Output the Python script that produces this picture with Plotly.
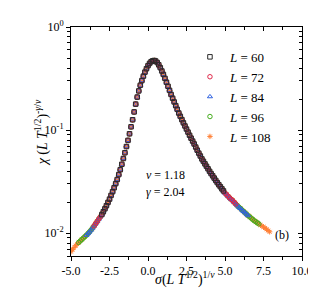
import plotly.graph_objects as go

# ---- data ----
x_L60 = [-3.0, -2.9, -2.8, -2.7, -2.6, -2.5, -2.4, -2.3, -2.2, -2.1, -2.0, -1.9, -1.8, -1.7, -1.6,
         -1.5, -1.4, -1.3, -1.2, -1.1, -1.0, -0.9, -0.8, -0.7, -0.6, -0.5, -0.4, -0.3, -0.2, -0.1,
         0.0, 0.1, 0.2, 0.3, 0.4, 0.5, 0.6, 0.7, 0.8, 0.9, 1.0, 1.1, 1.2, 1.3, 1.4, 1.5, 1.6, 1.7,
         1.8, 1.9, 2.0, 2.1, 2.2, 2.3, 2.4, 2.5, 2.6, 2.7, 2.8, 2.9, 3.0, 3.1, 3.2, 3.3, 3.4, 3.5,
         3.6, 3.7, 3.8, 3.9, 4.0, 4.1, 4.2, 4.3, 4.4, 4.5, 4.6, 4.7, 4.8, 4.9]
y_L60 = [0.01514, 0.01614, 0.01722, 0.01845, 0.01986, 0.02138, 0.02323, 0.02523, 0.02754, 0.03020,
         0.03311, 0.03698, 0.04130, 0.04656, 0.05297, 0.06026, 0.06918, 0.07943, 0.09204, 0.1076,
         0.1259, 0.1500, 0.1786, 0.2089, 0.2399, 0.2723, 0.3020, 0.3334, 0.3648, 0.3936,
         0.4217, 0.4436, 0.4603, 0.4699, 0.4732, 0.4677, 0.4519, 0.4295, 0.4027, 0.3741,
         0.3467, 0.3177, 0.2911, 0.2661, 0.2427, 0.2213, 0.2037, 0.1875, 0.1726, 0.1589,
         0.1462, 0.1358, 0.1262, 0.1175, 0.1096, 0.1023, 0.0955, 0.0891, 0.0834, 0.0782,
         0.0733, 0.0684, 0.0638, 0.0597, 0.0560, 0.0525, 0.0497, 0.0470, 0.0445, 0.0421,
         0.0398, 0.0378, 0.0360, 0.0342, 0.0325, 0.0309, 0.0295, 0.0282, 0.0269, 0.0257]

x_L72 = [-3.5, -3.4, -3.3, -3.2, -3.1, -3.0, -2.9, -2.8, -2.7, -2.6, -2.5, -2.4, -2.3, -2.2, -2.1,
         -2.0, -1.9, -1.8, -1.7, -1.6, -1.5, -1.4, -1.3, -1.2, -1.1, -1.0, -0.9, -0.8, -0.7, -0.6,
         -0.5, -0.4, -0.3, -0.2, -0.1, 0.0, 0.1, 0.2, 0.3, 0.4, 0.5, 0.6, 0.7, 0.8, 0.9, 1.0, 1.1,
         1.2, 1.3, 1.4, 1.5, 1.6, 1.7, 1.8, 1.9, 2.0, 2.1, 2.2, 2.3, 2.4, 2.5, 2.6, 2.7, 2.8, 2.9,
         3.0, 3.1, 3.2, 3.3, 3.4, 3.5, 3.6, 3.7, 3.8, 3.9, 4.0, 4.1, 4.2, 4.3, 4.4, 4.5, 4.6, 4.7,
         4.8, 4.9, 5.0, 5.1, 5.2, 5.3, 5.4, 5.5, 5.6, 5.7]
y_L72 = [0.01175, 0.01236, 0.01300, 0.01368, 0.01439,
         0.01514, 0.01614, 0.01722, 0.01845, 0.01986, 0.02138, 0.02323, 0.02523, 0.02754, 0.03020,
         0.03311, 0.03698, 0.04130, 0.04656, 0.05297, 0.06026, 0.06918, 0.07943, 0.09204, 0.1076,
         0.1259, 0.1500, 0.1786, 0.2089, 0.2399, 0.2723, 0.3020, 0.3334, 0.3648, 0.3936,
         0.4217, 0.4436, 0.4603, 0.4699, 0.4732, 0.4677, 0.4519, 0.4295, 0.4027, 0.3741,
         0.3467, 0.3177, 0.2911, 0.2661, 0.2427, 0.2213, 0.2037, 0.1875, 0.1726, 0.1589,
         0.1462, 0.1358, 0.1262, 0.1175, 0.1096, 0.1023, 0.0955, 0.0891, 0.0834, 0.0782,
         0.0733, 0.0684, 0.0638, 0.0597, 0.0560, 0.0525, 0.0497, 0.0470, 0.0445, 0.0421,
         0.0398, 0.0378, 0.0360, 0.0342, 0.0325, 0.0309, 0.0295, 0.0282, 0.0269, 0.0257,
         0.0245, 0.0237, 0.0228, 0.0220, 0.0213, 0.0207, 0.0199, 0.0192]

x_L84 = [-4.0, -3.9, -3.8, -3.7, -3.6, -3.5, -3.4, -3.3, -3.2, -3.1, -3.0, -2.9, -2.8, -2.7, -2.6,
         -2.5, -2.4, -2.3, -2.2, -2.1, -2.0, -1.9, -1.8, -1.7, -1.6, -1.5, -1.4, -1.3, -1.2, -1.1,
         -1.0, -0.9, -0.8, -0.7, -0.6, -0.5, -0.4, -0.3, -0.2, -0.1, 0.0, 0.1, 0.2, 0.3, 0.4, 0.5,
         0.6, 0.7, 0.8, 0.9, 1.0, 1.1, 1.2, 1.3, 1.4, 1.5, 1.6, 1.7, 1.8, 1.9, 2.0, 2.1, 2.2, 2.3,
         2.4, 2.5, 2.6, 2.7, 2.8, 2.9, 3.0, 3.1, 3.2, 3.3, 3.4, 3.5, 3.6, 3.7, 3.8, 3.9, 4.0, 4.1,
         4.2, 4.3, 4.4, 4.5, 4.6, 4.7, 4.8, 4.9, 5.0, 5.1, 5.2, 5.3, 5.4, 5.5, 5.6, 5.7, 5.8, 5.9,
         6.0, 6.1, 6.2, 6.3, 6.4, 6.5]
y_L84 = [0.00955, 0.00991, 0.01028, 0.01072, 0.01122, 0.01175, 0.01236, 0.01300, 0.01368, 0.01439,
         0.01514, 0.01614, 0.01722, 0.01845, 0.01986, 0.02138, 0.02323, 0.02523, 0.02754, 0.03020,
         0.03311, 0.03698, 0.04130, 0.04656, 0.05297, 0.06026, 0.06918, 0.07943, 0.09204, 0.1076,
         0.1259, 0.1500, 0.1786, 0.2089, 0.2399, 0.2723, 0.3020, 0.3334, 0.3648, 0.3936,
         0.4217, 0.4436, 0.4603, 0.4699, 0.4732, 0.4677, 0.4519, 0.4295, 0.4027, 0.3741,
         0.3467, 0.3177, 0.2911, 0.2661, 0.2427, 0.2213, 0.2037, 0.1875, 0.1726, 0.1589,
         0.1462, 0.1358, 0.1262, 0.1175, 0.1096, 0.1023, 0.0955, 0.0891, 0.0834, 0.0782,
         0.0733, 0.0684, 0.0638, 0.0597, 0.0560, 0.0525, 0.0497, 0.0470, 0.0445, 0.0421,
         0.0398, 0.0378, 0.0360, 0.0342, 0.0325, 0.0309, 0.0295, 0.0282, 0.0269, 0.0257,
         0.0245, 0.0237, 0.0228, 0.0220, 0.0213, 0.0207, 0.0199, 0.0192, 0.0185, 0.0179,
         0.0174, 0.0168, 0.0163, 0.0158, 0.0153, 0.0148]

x_L96 = [-4.5, -4.4, -4.3, -4.2, -4.1, -4.0, -3.9, -3.8, -3.7, -3.6, -3.5, -3.4, -3.3, -3.2, -3.1,
         -3.0, -2.9, -2.8, -2.7, -2.6, -2.5, -2.4, -2.3, -2.2, -2.1, -2.0, -1.9, -1.8, -1.7, -1.6,
         -1.5, -1.4, -1.3, -1.2, -1.1, -1.0, -0.9, -0.8, -0.7, -0.6, -0.5, -0.4, -0.3, -0.2, -0.1,
         0.0, 0.1, 0.2, 0.3, 0.4, 0.5, 0.6, 0.7, 0.8, 0.9, 1.0, 1.1, 1.2, 1.3, 1.4, 1.5, 1.6, 1.7,
         1.8, 1.9, 2.0, 2.1, 2.2, 2.3, 2.4, 2.5, 2.6, 2.7, 2.8, 2.9, 3.0, 3.1, 3.2, 3.3, 3.4, 3.5,
         3.6, 3.7, 3.8, 3.9, 4.0, 4.1, 4.2, 4.3, 4.4, 4.5, 4.6, 4.7, 4.8, 4.9, 5.0, 5.1, 5.2, 5.3,
         5.4, 5.5, 5.6, 5.7, 5.8, 5.9, 6.0, 6.1, 6.2, 6.3, 6.4, 6.5, 6.6, 6.7, 6.8, 6.9, 7.0, 7.1,
         7.2]
y_L96 = [0.00813, 0.00839, 0.00867, 0.00895, 0.00925,
         0.00955, 0.00991, 0.01028, 0.01072, 0.01122, 0.01175, 0.01236, 0.01300, 0.01368, 0.01439,
         0.01514, 0.01614, 0.01722, 0.01845, 0.01986, 0.02138, 0.02323, 0.02523, 0.02754, 0.03020,
         0.03311, 0.03698, 0.04130, 0.04656, 0.05297, 0.06026, 0.06918, 0.07943, 0.09204, 0.1076,
         0.1259, 0.1500, 0.1786, 0.2089, 0.2399, 0.2723, 0.3020, 0.3334, 0.3648, 0.3936,
         0.4217, 0.4436, 0.4603, 0.4699, 0.4732, 0.4677, 0.4519, 0.4295, 0.4027, 0.3741,
         0.3467, 0.3177, 0.2911, 0.2661, 0.2427, 0.2213, 0.2037, 0.1875, 0.1726, 0.1589,
         0.1462, 0.1358, 0.1262, 0.1175, 0.1096, 0.1023, 0.0955, 0.0891, 0.0834, 0.0782,
         0.0733, 0.0684, 0.0638, 0.0597, 0.0560, 0.0525, 0.0497, 0.0470, 0.0445, 0.0421,
         0.0398, 0.0378, 0.0360, 0.0342, 0.0325, 0.0309, 0.0295, 0.0282, 0.0269, 0.0257,
         0.0245, 0.0237, 0.0228, 0.0220, 0.0213, 0.0207, 0.0199, 0.0192, 0.0185, 0.0179,
         0.0174, 0.0168, 0.0163, 0.0158, 0.0153, 0.0148, 0.0144, 0.0140, 0.0136, 0.0132,
         0.0129, 0.0126, 0.0123]

x_L108 = [-5.0, -4.9, -4.8, -4.7, -4.6, -4.5, -4.4, -4.3, -4.2, -4.1, -4.0, -3.9, -3.8, -3.7, -3.6,
          -3.5, -3.4, -3.3, -3.2, -3.1, -3.0, -2.9, -2.8, -2.7, -2.6, -2.5, -2.4, -2.3, -2.2, -2.1,
          -2.0, -1.9, -1.8, -1.7, -1.6, -1.5, -1.4, -1.3, -1.2, -1.1, -1.0, -0.9, -0.8, -0.7, -0.6,
          -0.5, -0.4, -0.3, -0.2, -0.1, 0.0, 0.1, 0.2, 0.3, 0.4, 0.5, 0.6, 0.7, 0.8, 0.9, 1.0, 1.1,
          1.2, 1.3, 1.4, 1.5, 1.6, 1.7, 1.8, 1.9, 2.0, 2.1, 2.2, 2.3, 2.4, 2.5, 2.6, 2.7, 2.8, 2.9,
          3.0, 3.1, 3.2, 3.3, 3.4, 3.5, 3.6, 3.7, 3.8, 3.9, 4.0, 4.1, 4.2, 4.3, 4.4, 4.5, 4.6, 4.7,
          4.8, 4.9, 5.0, 5.1, 5.2, 5.3, 5.4, 5.5, 5.6, 5.7, 5.8, 5.9, 6.0, 6.1, 6.2, 6.3, 6.4, 6.5,
          6.6, 6.7, 6.8, 6.9, 7.0, 7.1, 7.2, 7.3, 7.4, 7.5, 7.6, 7.7, 7.8, 7.9]
y_L108 = [0.00661, 0.00692, 0.00724, 0.00755, 0.00783,
          0.00813, 0.00839, 0.00867, 0.00895, 0.00925,
          0.00955, 0.00991, 0.01028, 0.01072, 0.01122, 0.01175, 0.01236, 0.01300, 0.01368, 0.01439,
          0.01514, 0.01614, 0.01722, 0.01845, 0.01986, 0.02138, 0.02323, 0.02523, 0.02754, 0.03020,
          0.03311, 0.03698, 0.04130, 0.04656, 0.05297, 0.06026, 0.06918, 0.07943, 0.09204, 0.1076,
          0.1259, 0.1500, 0.1786, 0.2089, 0.2399, 0.2723, 0.3020, 0.3334, 0.3648, 0.3936,
          0.4217, 0.4436, 0.4603, 0.4699, 0.4732, 0.4677, 0.4519, 0.4295, 0.4027, 0.3741,
          0.3467, 0.3177, 0.2911, 0.2661, 0.2427, 0.2213, 0.2037, 0.1875, 0.1726, 0.1589,
          0.1462, 0.1358, 0.1262, 0.1175, 0.1096, 0.1023, 0.0955, 0.0891, 0.0834, 0.0782,
          0.0733, 0.0684, 0.0638, 0.0597, 0.0560, 0.0525, 0.0497, 0.0470, 0.0445, 0.0421,
          0.0398, 0.0378, 0.0360, 0.0342, 0.0325, 0.0309, 0.0295, 0.0282, 0.0269, 0.0257,
          0.0245, 0.0237, 0.0228, 0.0220, 0.0213, 0.0207, 0.0199, 0.0192, 0.0185, 0.0179,
          0.0174, 0.0168, 0.0163, 0.0158, 0.0153, 0.0148, 0.0144, 0.0140, 0.0136, 0.0132,
          0.0129, 0.0126, 0.0123, 0.0120, 0.0117, 0.0115, 0.0112, 0.0109, 0.0106, 0.0103]

series_names = ["<i>L</i> = 60", "<i>L</i> = 72", "<i>L</i> = 84", "<i>L</i> = 96", "<i>L</i> = 108"]
x_tickvals = [-5.0, -2.5, 0.0, 2.5, 5.0, 7.5, 10.0]
x_ticktext = ["-5.0", "-2.5", "0.0", "2.5", "5.0", "7.5", "10.0"]
y_tickvals = [0.01, 0.1, 1]
y_ticktext = ["10<sup>-2</sup>", "10<sup>-1</sup>", "10<sup>0</sup>"]
x_title = "<i>σ</i>(<i>L T</i><sup>1/2</sup>)<sup>1/<i>ν</i></sup>"
y_title = "<i>χ</i> (<i>L T</i><sup>1/2</sup>)<sup>-<i>γ</i>/<i>ν</i></sup>"
nu_text = "<i>ν</i> = 1.18"
gamma_text = "<i>γ</i> = 2.04"
panel_text = "(b)"

# ---- styling ----
FONT = "Liberation Serif"
colors = ["#2a2a2a", "#e0284a", "#2f62e0", "#45ad1e", "#ff8036"]
symbols = ["square-open", "circle-open", "triangle-up-open", "circle-open", "asterisk-open"]
sizes = [4.5, 4.5, 4.5, 4.5, 4.5]

xs = [x_L60, x_L72, x_L84, x_L96, x_L108]
ys = [y_L60, y_L72, y_L84, y_L96, y_L108]

fig = go.Figure()
# draw the largest L first so the smaller L sit on top (as in the reference)
for i in reversed(range(5)):
    c = colors[i]
    fig.add_trace(go.Scatter(
        x=xs[i], y=ys[i], mode="markers", name=series_names[i],
        marker=dict(symbol=symbols[i], size=sizes[i], color=c, line=dict(color=c, width=1)),
    ))

# invisible trace so the mirrored top/right axes are drawn
fig.add_trace(go.Scatter(x=[0], y=[0.1], xaxis="x2", yaxis="y2", mode="markers",
                         marker=dict(opacity=0), showlegend=False, hoverinfo="skip"))

x_minor = [-3.75, -1.25, 1.25, 3.75, 6.25, 8.75]
y_minor = [0.006, 0.007, 0.008, 0.009, 0.02, 0.03, 0.04, 0.05, 0.06, 0.07, 0.08, 0.09,
           0.2, 0.3, 0.4, 0.5, 0.6, 0.7, 0.8, 0.9]
y_range = [-2.2218, 0.0]

fig.update_layout(
    width=316, height=293,
    margin=dict(l=63, r=16, t=11, b=45),
    paper_bgcolor="white", plot_bgcolor="white",
    font=dict(family=FONT, size=12, color="black"),
    showlegend=True,
    legend=dict(x=0.515, y=0.935, xanchor="left", yanchor="top", bgcolor="rgba(0,0,0,0)",
                font=dict(family=FONT, size=13), itemwidth=30, tracegroupgap=0,
                traceorder="reversed"),
    xaxis=dict(range=[-5, 10], tickmode="array", tickvals=x_tickvals, ticktext=x_ticktext,
               ticks="outside", ticklen=4, tickwidth=1, tickcolor="black",
               showline=True, linecolor="black", linewidth=1, showgrid=False, zeroline=False,
               minor=dict(tickmode="array", tickvals=x_minor, ticks="outside", ticklen=3,
                          tickcolor="black", showgrid=False)),
    yaxis=dict(type="log", range=y_range, tickmode="array", tickvals=y_tickvals,
               ticktext=y_ticktext, ticks="outside", ticklen=4, tickwidth=1, tickcolor="black",
               showline=True, linecolor="black", linewidth=1, showgrid=False, zeroline=False,
               minor=dict(tickmode="array", tickvals=y_minor, ticks="outside", ticklen=3,
                          tickcolor="black", showgrid=False)),
    xaxis2=dict(overlaying="x", side="top", range=[-5, 10], tickmode="array",
                tickvals=x_tickvals, showticklabels=False, ticks="inside", ticklen=4,
                tickcolor="black", showline=True, linecolor="black", linewidth=1,
                showgrid=False, zeroline=False,
                minor=dict(tickmode="array", tickvals=x_minor, ticks="inside", ticklen=3,
                           tickcolor="black", showgrid=False)),
    yaxis2=dict(overlaying="y", side="right", type="log", range=y_range, tickmode="array",
                tickvals=y_tickvals, showticklabels=False, ticks="inside", ticklen=4,
                tickcolor="black", showline=True, linecolor="black", linewidth=1,
                showgrid=False, zeroline=False,
                minor=dict(tickmode="array", tickvals=y_minor, ticks="inside", ticklen=3,
                           tickcolor="black", showgrid=False)),
    annotations=[
        dict(text=x_title, x=0.494, y=-0.1, xref="paper", yref="paper", xanchor="center",
             yanchor="middle", showarrow=False, font=dict(family=FONT, size=14)),
        dict(text=y_title, x=-0.13, y=0.54, xref="paper", yref="paper", xanchor="center",
             yanchor="middle", textangle=-90, showarrow=False, font=dict(family=FONT, size=14)),
        dict(text=nu_text, x=0.315, y=0.352, xref="paper", yref="paper", xanchor="left",
             yanchor="middle", showarrow=False, font=dict(family=FONT, size=12)),
        dict(text=gamma_text, x=0.315, y=0.28, xref="paper", yref="paper", xanchor="left",
             yanchor="middle", showarrow=False, font=dict(family=FONT, size=12)),
        dict(text=panel_text, x=0.915, y=0.09, xref="paper", yref="paper", xanchor="center",
             yanchor="middle", showarrow=False, font=dict(family=FONT, size=12)),
    ],
)

fig.write_html("out.html")
